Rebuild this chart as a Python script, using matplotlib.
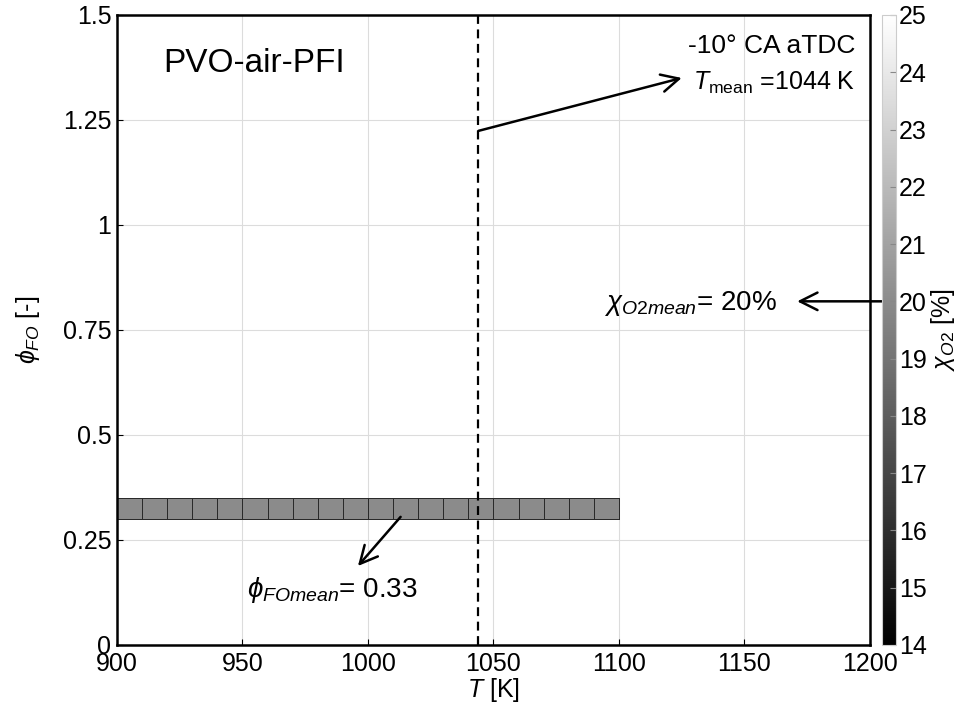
import matplotlib
matplotlib.use("Agg")
import matplotlib.pyplot as plt
import numpy as np
from matplotlib.colors import Normalize
from matplotlib.transforms import blended_transform_factory

plt.rcParams['font.family'] = ['Liberation Sans', 'DejaVu Sans']
plt.rcParams['mathtext.fontset'] = 'custom'
plt.rcParams['mathtext.rm'] = 'Liberation Sans'
plt.rcParams['mathtext.it'] = 'Liberation Sans:italic'
plt.rcParams['mathtext.bf'] = 'Liberation Sans:bold'

# ---- data ----
T_edges = [900, 910, 920, 930, 940, 950, 960, 970, 980, 990, 1000,
           1010, 1020, 1030, 1040, 1050, 1060, 1070, 1080, 1090, 1100]
phi_edges = [0.30, 0.35]
chi_O2 = [20, 20, 20, 20, 20, 20, 20, 20, 20, 20,
          20, 20, 20, 20, 20, 20, 20, 20, 20, 20]
T_mean = 1044
phi_mean = 0.33
chi_mean = 20
x_ticks = [900, 950, 1000, 1050, 1100, 1150, 1200]
y_ticks = [0, 0.25, 0.5, 0.75, 1, 1.25, 1.5]
y_ticklabels = ['0', '0.25', '0.5', '0.75', '1', '1.25', '1.5']
cb_ticks = [14, 15, 16, 17, 18, 19, 20, 21, 22, 23, 24, 25]
cb_min, cb_max = 14, 25

fig = plt.figure(figsize=(9.74, 7.09), dpi=100)
ax = fig.add_axes([0.1201, 0.0903, 0.7731, 0.8886])
cax = fig.add_axes([0.9055, 0.0903, 0.0144, 0.8886])

norm = Normalize(vmin=cb_min, vmax=cb_max)
cmap = plt.get_cmap('gray')
C = np.array([chi_O2])
mesh = ax.pcolormesh(T_edges, phi_edges, C, cmap=cmap, norm=norm,
                     edgecolors='#2a2a2a', linewidth=0.6, zorder=2)

ax.axvline(T_mean, color='black', linestyle=(0, (4, 2.5)), linewidth=1.6, zorder=3)

ax.set_xlim(900, 1200)
ax.set_ylim(0, 1.5)
ax.set_xticks(x_ticks)
ax.set_yticks(y_ticks)
ax.set_yticklabels(y_ticklabels)
ax.tick_params(axis='both', direction='in', length=4, width=0.8, labelsize=18, pad=4)
ax.tick_params(axis='x', pad=5)
ax.grid(True, color='#dcdcdc', linewidth=0.8, zorder=0)
ax.set_axisbelow(True)
for s in ax.spines.values():
    s.set_linewidth(1.8)

ax.set_xlabel(r'$T$ [K]', fontsize=18, labelpad=0)
ax.set_ylabel(r'$\phi_{FO}$ [-]', fontsize=18, labelpad=15)

ax.text(918.3, 1.385, 'PVO-air-PFI', fontsize=24, ha='left', va='center')
ax.text(1194, 1.426, '-10° CA aTDC', fontsize=19, ha='right', va='center')
ax.text(1194, 1.338, r'$T_{\rm mean}$ =%d K' % T_mean, fontsize=18, ha='right', va='center')

arrow_kw = dict(arrowstyle='->,head_length=0.7,head_width=0.35', color='black',
                lw=1.8, mutation_scale=18, shrinkA=0, shrinkB=0)
ax.annotate('', xy=(1125, 1.35), xytext=(T_mean, 1.224), arrowprops=arrow_kw)
ax.annotate('', xy=(996, 0.188), xytext=(1013, 0.305), arrowprops=arrow_kw)
ax.text(985.7, 0.13, r'$\phi_{FOmean}$= %.2f' % phi_mean, fontsize=20,
        ha='center', va='center')

cb = fig.colorbar(mesh, cax=cax, ticks=cb_ticks)
cb.outline.set_edgecolor('#cccccc')
cb.outline.set_linewidth(0.8)
cax.tick_params(labelsize=18, length=4, color='#888888', direction='in', pad=2)
cb.set_label(r'$\chi_{O2}$ [%]', fontsize=18, labelpad=2)

blend = blended_transform_factory(ax.transData, cax.transAxes)
yfrac = (chi_mean - cb_min) / (cb_max - cb_min)
ax.annotate('', xy=(1171, yfrac), xycoords=blend,
            xytext=(0.0, yfrac), textcoords=cax.transAxes,
            arrowprops=arrow_kw, annotation_clip=False)
ax.text(1163, yfrac - 0.004, r'$\chi_{O2mean}$= %d%%' % chi_mean, fontsize=20,
        ha='right', va='center', transform=blend)

fig.savefig('out.png', dpi=100)
